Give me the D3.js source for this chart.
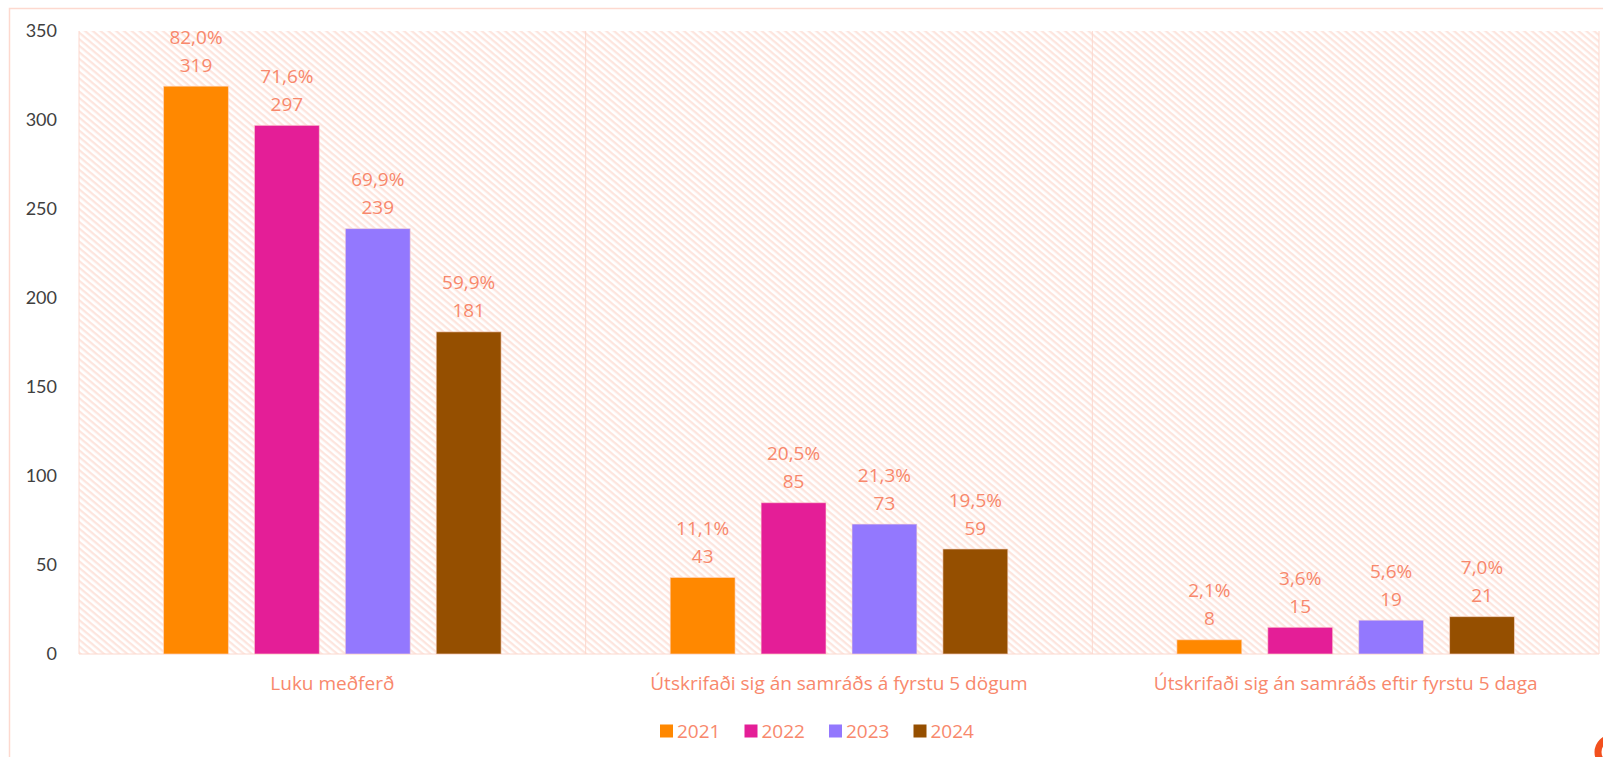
<!DOCTYPE html>
<html>
<head>
<meta charset="utf-8">
<script src="https://cdn.jsdelivr.net/npm/d3@7"></script>
<style>
  body { margin: 0; background: #fff; }
  text { font-family: "Open Sans", Lato, sans-serif; }
</style>
</head>
<body>
<div id="chart"></div>
<script>
// data
const categories = ["Luku meðferð", "Útskrifaði sig án samráðs á fyrstu 5 dögum", "Útskrifaði sig án samráðs eftir fyrstu 5 daga"];
const years = ["2021", "2022", "2023", "2024"];
const values2021 = [319, 43, 8];
const values2022 = [297, 85, 15];
const values2023 = [239, 73, 19];
const values2024 = [181, 59, 21];
const pct2021 = ["82,0%", "11,1%", "2,1%"];
const pct2022 = ["71,6%", "20,5%", "3,6%"];
const pct2023 = ["69,9%", "21,3%", "5,6%"];
const pct2024 = ["59,9%", "19,5%", "7,0%"];
const yTicks = [0, 50, 100, 150, 200, 250, 300, 350];

const colors = ["#ff8800", "#e41e97", "#9378fe", "#954f00"];
const labelColor = "#f8886c";

const allValues = [values2021, values2022, values2023, values2024];
const allPct = [pct2021, pct2022, pct2023, pct2024];

var W = 1603, H = 757;
var margin = { top: 31, right: 4, bottom: 103, left: 79 },
  width = W - margin.left - margin.right,
  height = H - margin.top - margin.bottom;

var svg = d3.select("#chart")
  .append("svg")
  .attr("width", W)
  .attr("height", H);

// hatch pattern for the plot background
var defs = svg.append("defs");
var pat = defs.append("pattern")
  .attr("id", "hatch")
  .attr("patternUnits", "userSpaceOnUse")
  .attr("width", 5)
  .attr("height", 5)
  .attr("patternTransform", "rotate(40)");
pat.append("rect").attr("width", 5).attr("height", 5).attr("fill", "#fff");
pat.append("rect").attr("width", 5).attr("height", 2.3).attr("fill", "#fde5de");

// outer chart border
svg.append("rect")
  .attr("x", 9.5).attr("y", 8.5)
  .attr("width", W + 20).attr("height", H + 20)
  .attr("fill", "none")
  .attr("stroke", "#fdd9cf")
  .attr("stroke-width", 1.5);

var g = svg.append("g")
  .attr("transform", "translate(" + margin.left + "," + margin.top + ")");

var x0 = d3.scaleBand().domain(categories).range([0, width]).padding(0);
var x1 = d3.scaleBand().domain(years).range([0, x0.bandwidth()])
  .paddingInner(0.286).paddingOuter(0.93);
var y = d3.scaleLinear().domain([0, 350]).range([height, 0]);

g.append("rect")
  .attr("width", width)
  .attr("height", height)
  .attr("fill", "url(#hatch)");

// category dividers
g.selectAll(".divider")
  .data(categories.concat(["end"]))
  .enter().append("line")
  .attr("class", "divider")
  .attr("x1", function (d, i) { return i < categories.length ? x0(d) : width; })
  .attr("x2", function (d, i) { return i < categories.length ? x0(d) : width; })
  .attr("y1", 0)
  .attr("y2", height)
  .attr("stroke", "#fcd8ce")
  .attr("stroke-width", 1);

g.append("line")
  .attr("x1", 0).attr("x2", width)
  .attr("y1", height).attr("y2", height)
  .attr("stroke", "#fcd8ce");

// y axis (labels only)
var yAxis = d3.axisLeft(y).tickValues(yTicks).tickSize(0).tickPadding(22);
var ya = g.append("g").call(yAxis);
ya.select(".domain").remove();
ya.selectAll("text")
  .attr("fill", "#404040")
  .style("font-size", "18px")
  .style("font-family", "Lato, 'Open Sans', sans-serif");

// category labels
g.selectAll(".cat")
  .data(categories)
  .enter().append("text")
  .attr("class", "cat")
  .attr("x", function (d) { return x0(d) + x0.bandwidth() / 2; })
  .attr("y", height + 29)
  .attr("dy", "0.35em")
  .attr("text-anchor", "middle")
  .attr("fill", labelColor)
  .style("font-size", "19px")
  .text(function (d) { return d; });

// bars
years.forEach(function (yr, si) {
  var rows = categories.map(function (c, ci) {
    return { cat: c, v: allValues[si][ci], p: allPct[si][ci] };
  });
  var sg = g.append("g");
  sg.selectAll("rect")
    .data(rows)
    .enter().append("rect")
    .attr("x", function (d) { return x0(d.cat) + x1(yr); })
    .attr("y", function (d) { return y(d.v); })
    .attr("width", x1.bandwidth())
    .attr("height", function (d) { return height - y(d.v); })
    .attr("fill", colors[si])
    .attr("stroke", "rgba(255,220,210,0.6)")
    .attr("stroke-width", 1);

  sg.selectAll(".val")
    .data(rows)
    .enter().append("text")
    .attr("class", "val")
    .attr("x", function (d) { return x0(d.cat) + x1(yr) + x1.bandwidth() / 2; })
    .attr("y", function (d) { return y(d.v) - 21; })
    .attr("dy", "0.35em")
    .attr("text-anchor", "middle")
    .attr("fill", labelColor)
    .style("font-size", "19px")
    .text(function (d) { return d.v; });

  sg.selectAll(".pct")
    .data(rows)
    .enter().append("text")
    .attr("class", "pct")
    .attr("x", function (d) { return x0(d.cat) + x1(yr) + x1.bandwidth() / 2; })
    .attr("y", function (d) { return y(d.v) - 49; })
    .attr("dy", "0.35em")
    .attr("text-anchor", "middle")
    .attr("fill", labelColor)
    .style("font-size", "19px")
    .text(function (d) { return d.p; });
});

// legend
var legend = svg.append("g")
  .attr("transform", "translate(660,731)");
var items = legend.selectAll(".legend")
  .data(years)
  .enter().append("g")
  .attr("class", "legend")
  .attr("transform", function (d, i) { return "translate(" + i * 84.5 + ",0)"; });
items.append("rect")
  .attr("x", 0).attr("y", -6.5)
  .attr("width", 13).attr("height", 13)
  .attr("fill", function (d, i) { return colors[i]; });
items.append("text")
  .attr("x", 17)
  .attr("y", 0)
  .attr("dy", "0.35em")
  .attr("fill", labelColor)
  .style("font-size", "19px")
  .text(function (d) { return d; });

// cut-off logo mark in the corner
svg.append("circle")
  .attr("cx", 1612).attr("cy", 752)
  .attr("r", 14)
  .attr("fill", "none")
  .attr("stroke", "#f2501e")
  .attr("stroke-width", 7);
</script>
</body>
</html>
